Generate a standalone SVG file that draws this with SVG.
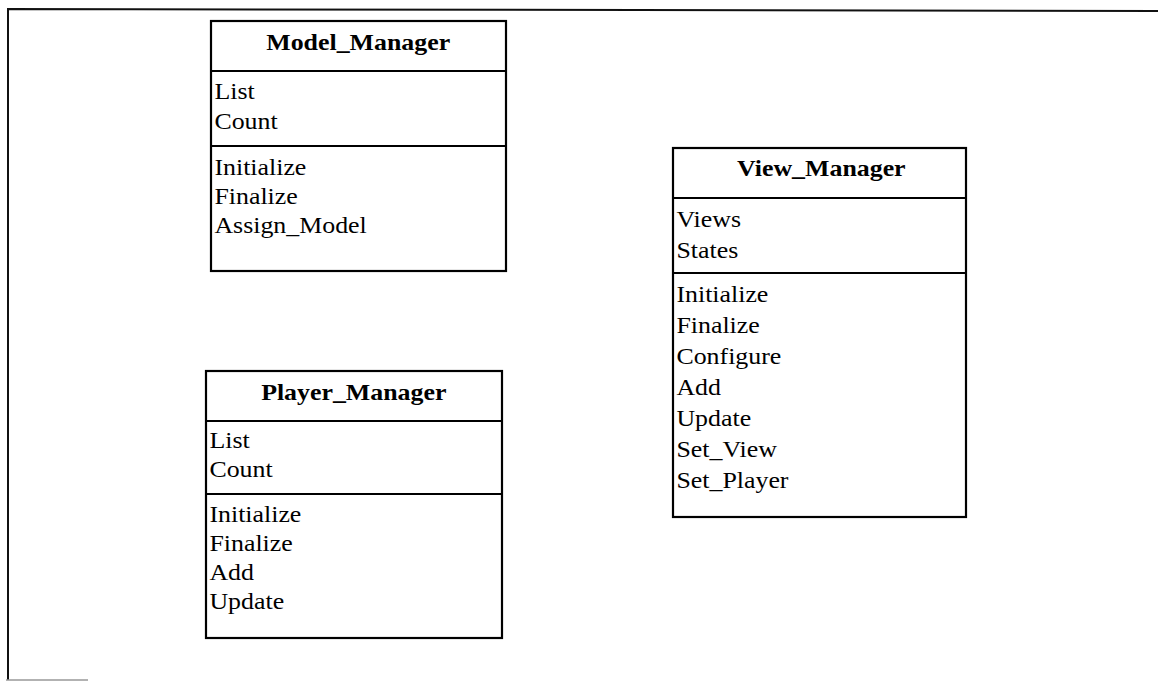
<svg xmlns="http://www.w3.org/2000/svg" width="1158" height="681" viewBox="0 0 1158 681">
<style>
.box{fill:#fff;stroke:#000;stroke-width:2.2}
.div{stroke:#000;stroke-width:2.2}
.t{font-family:"Liberation Serif","Times New Roman",serif;font-size:22.5px;fill:#000}
.h{font-weight:bold;text-anchor:middle}
.frame{fill:none;stroke:#111;stroke-width:2}
</style>
<rect width="1158" height="681" fill="#fff"/>
<g id="frame">
<path class="frame" d="M8,680 L8,9 L1158,11"/>
<line x1="6" y1="680" x2="88" y2="680" stroke="#999" stroke-width="1.5"/>
</g>
<g id="connectors"></g>
<g id="model_manager">
<rect class="box" x="211" y="21" width="295" height="250"/>
<line class="div" x1="211" y1="71" x2="506" y2="71"/>
<line class="div" x1="211" y1="146" x2="506" y2="146"/>
<g transform="translate(211,0) scale(1.15,1)">
<text class="t h" x="128" y="50">Model_Manager</text>
<text class="t" x="3" y="99">List</text>
<text class="t" x="3" y="129">Count</text>
<text class="t" x="3" y="175">Initialize</text>
<text class="t" x="3" y="204">Finalize</text>
<text class="t" x="3" y="233">Assign_Model</text>
</g>
</g>
<g id="player_manager">
<rect class="box" x="206" y="371" width="296" height="267"/>
<line class="div" x1="206" y1="421" x2="502" y2="421"/>
<line class="div" x1="206" y1="494" x2="502" y2="494"/>
<g transform="translate(206,0) scale(1.15,1)">
<text class="t h" x="128.5" y="400">Player_Manager</text>
<text class="t" x="3" y="448">List</text>
<text class="t" x="3" y="477">Count</text>
<text class="t" x="3" y="522">Initialize</text>
<text class="t" x="3" y="551">Finalize</text>
<text class="t" x="3" y="580">Add</text>
<text class="t" x="3" y="609">Update</text>
</g>
</g>
<g id="view_manager">
<rect class="box" x="673" y="148" width="293" height="369"/>
<line class="div" x1="673" y1="198" x2="966" y2="198"/>
<line class="div" x1="673" y1="273" x2="966" y2="273"/>
<g transform="translate(673,0) scale(1.15,1)">
<text class="t h" x="129" y="176">View_Manager</text>
<text class="t" x="3" y="227">Views</text>
<text class="t" x="3" y="258">States</text>
<text class="t" x="3" y="302">Initialize</text>
<text class="t" x="3" y="333">Finalize</text>
<text class="t" x="3" y="364">Configure</text>
<text class="t" x="3" y="395">Add</text>
<text class="t" x="3" y="426">Update</text>
<text class="t" x="3" y="457">Set_View</text>
<text class="t" x="3" y="488">Set_Player</text>
</g>
</g>
</svg>
